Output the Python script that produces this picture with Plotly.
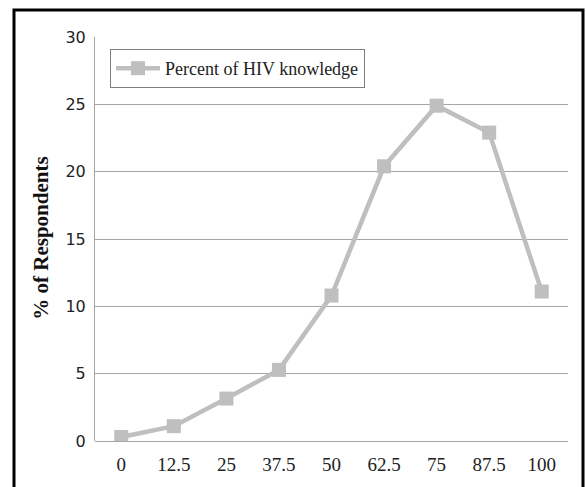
import plotly.graph_objects as go

categories = ["0", "12.5", "25", "37.5", "50", "62.5", "75", "87.5", "100"]
values = [0.3, 1.1, 3.15, 5.28, 10.8, 20.4, 24.9, 22.9, 11.1]
series_name = "Percent of HIV knowledge"
y_ticks = [0, 5, 10, 15, 20, 25, 30]

W, H = 586, 487
L, R, T, B = 95, 18, 37, 45.5
pw, ph = W - L - R, H - T - B

def px_x(x):
    return (x - L) / pw

def px_y(y):
    return (H - B - y) / ph

fig = go.Figure()
fig.add_trace(go.Scatter(
    x=categories, y=values, name=series_name, mode="lines+markers",
    line=dict(color="#BFBFBF", width=4.5),
    marker=dict(symbol="square", size=14, color="#BFBFBF"),
    showlegend=True,
))

fig.update_layout(
    width=W, height=H,
    margin=dict(l=L, r=R, t=T, b=B),
    paper_bgcolor="white", plot_bgcolor="white",
    showlegend=True,
    legend=dict(
        x=px_x(110), y=px_y(49), xanchor="left", yanchor="top",
        bordercolor="#7F7F7F", borderwidth=1, bgcolor="white",
        font=dict(family="Liberation Serif", size=18, color="#222"),
        itemwidth=44,
    ),
    xaxis=dict(
        type="category", range=[-0.5, 8.5],
        showgrid=False, showline=False, zeroline=False,
        tickfont=dict(family="Liberation Serif", size=19, color="#222"),
        ticks="", ticklabelstandoff=10,
    ),
    yaxis=dict(
        range=[0, 30], tickvals=y_ticks,
        showgrid=True, gridcolor="#A6A6A6", gridwidth=1,
        showline=True, linecolor="#A6A6A6", linewidth=1,
        zeroline=True, zerolinecolor="#A6A6A6", zerolinewidth=1,
        tickfont=dict(family="DejaVu Sans", size=16, color="#222"),
        ticks="", ticklabelstandoff=5,
    ),
)

fig.add_annotation(
    text="<b>% of Respondents</b>", textangle=-90,
    xref="paper", yref="paper", x=px_x(41), y=px_y(239),
    xanchor="center", yanchor="middle", showarrow=False,
    font=dict(family="Liberation Serif", size=21, color="#111"),
)

fig.add_shape(
    type="rect", xref="paper", yref="paper",
    x0=px_x(14), x1=px_x(583), y0=px_y(10), y1=px_y(495),
    line=dict(color="black", width=3), fillcolor="rgba(0,0,0,0)",
)

fig.write_html(
    "out.html",
    config={"displayModeBar": False},
    post_script="document.body.style.margin='0';document.body.style.overflow='hidden';",
)
